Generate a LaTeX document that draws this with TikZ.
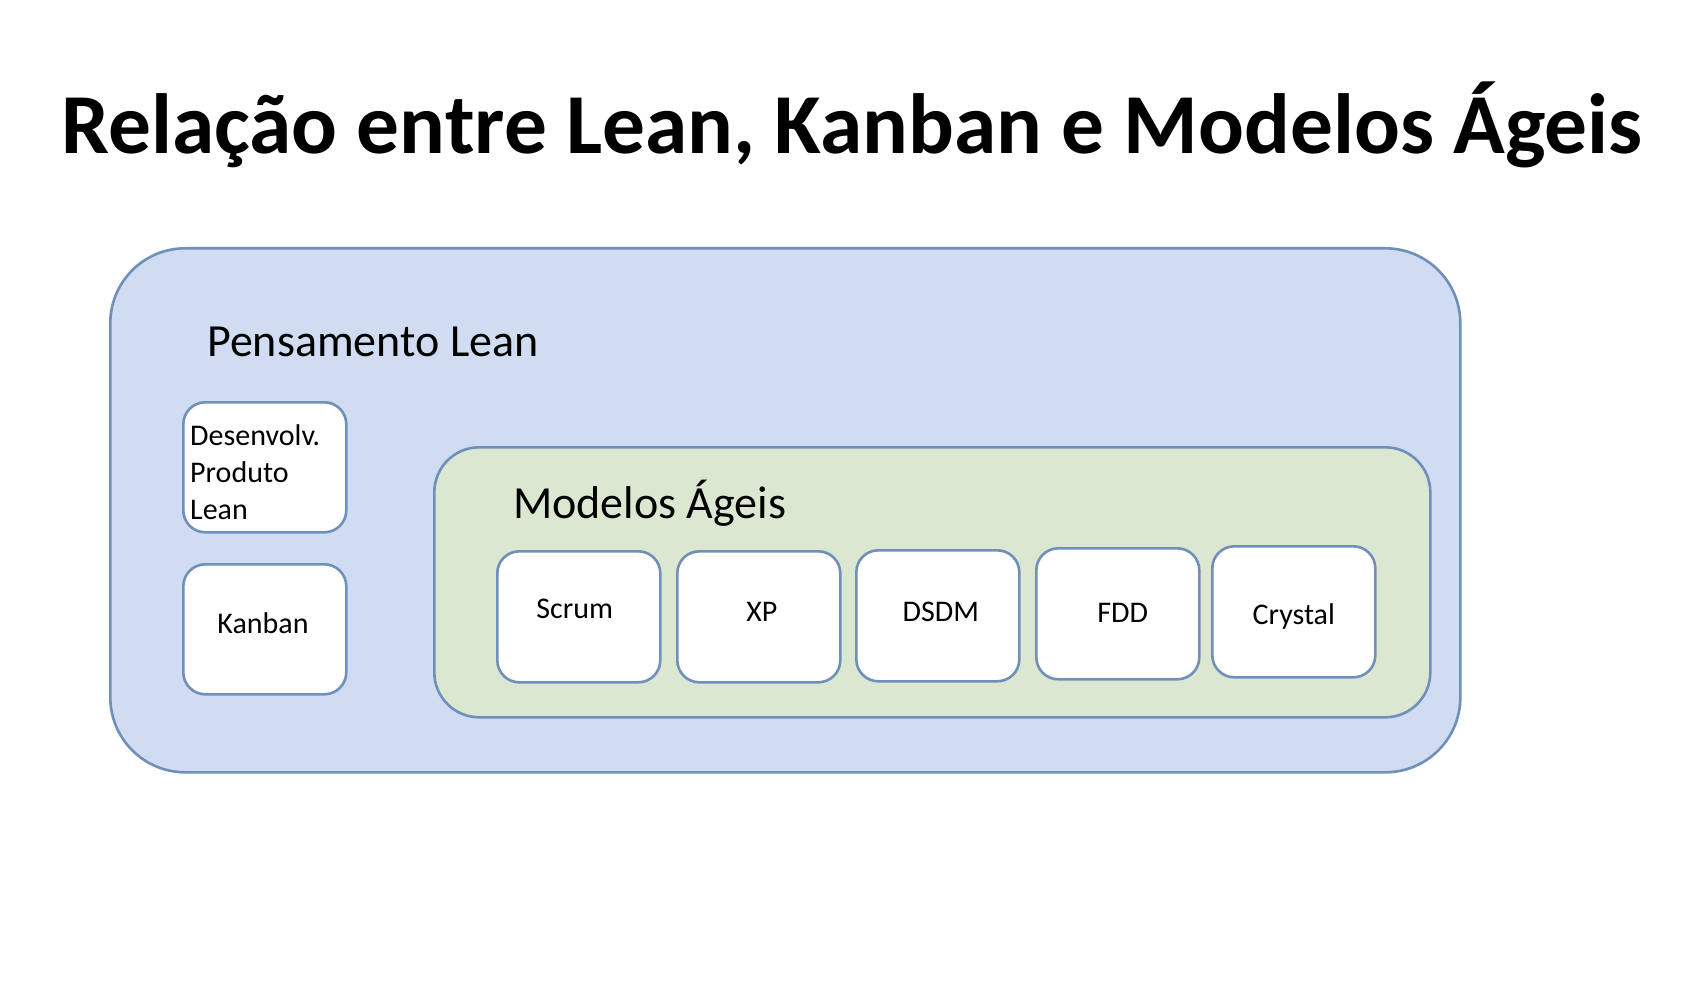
\documentclass[tikz,border=0pt]{standalone}
\usepackage{fontspec}
\setmainfont{Carlito}
\definecolor{outerfill}{HTML}{D0DCF2}
\definecolor{greenfill}{HTML}{DCE7D2}
\definecolor{edge}{HTML}{7090BA}
\begin{document}
\begin{tikzpicture}[x=1pt,y=-1pt,
  panel/.style={draw=edge, line width=2.6pt, rectangle, inner sep=0pt, anchor=north west},
  box/.style={panel, fill=white, rounded corners=22pt, minimum width=163pt, minimum height=131pt},
  lbl/.style={inner sep=0pt, text=black},
  small/.style={lbl, font=\fontsize{30}{37}\selectfont, anchor=base}
]
\useasboundingbox[fill=white] (0,0) rectangle (1702,1008);

\node[lbl, anchor=base, font=\fontsize{85.4}{100}\bfseries\selectfont] (title) at (852,154) {Relação entre Lean, Kanban e Modelos Ágeis};

\node[panel, fill=outerfill, rounded corners=75pt, minimum width=1350pt, minimum height=524pt] (outer) at (109,247) {};
\node[lbl, anchor=base west, font=\fontsize{46}{55}\selectfont] (plean) at (207,356) {Pensamento Lean};

\node[box, minimum height=130pt] (dev) at (182,401) {};
\node[lbl, anchor=base west, align=left, font=\fontsize{30}{37}\selectfont] (devt) at (190,519) {Desenvolv.\\Produto\\Lean};

\node[box, minimum height=130pt] (kan) at (182,563) {};
\node[small] (kant) at (263,633) {Kanban};

\node[panel, fill=greenfill, rounded corners=45pt, minimum width=996pt, minimum height=270pt] (green) at (433,446) {};
\node[lbl, anchor=base west, font=\fontsize{46}{55}\selectfont] (mag) at (513,518) {Modelos Ágeis};

\node[box] (scrum) at (496,550) {};
\node[box] (xp) at (676,550) {};
\node[box] (dsdm) at (855,549) {};
\node[box] (fdd) at (1035,547) {};
\node[box] (crystal) at (1211,545) {};

\node[small] (scrumt) at ([xshift=-4pt]scrum.north |- 0,618) {Scrum};
\node[small] (xpt) at ([xshift=3pt]xp.north |- 0,621) {XP};
\node[small] (dsdmt) at ([xshift=3pt]dsdm.north |- 0,621) {DSDM};
\node[small] (fddt) at ([xshift=5pt]fdd.north |- 0,622) {FDD};
\node[small] (crystalt) at (crystal.north |- 0,624) {Crystal};
\end{tikzpicture}
\end{document}
